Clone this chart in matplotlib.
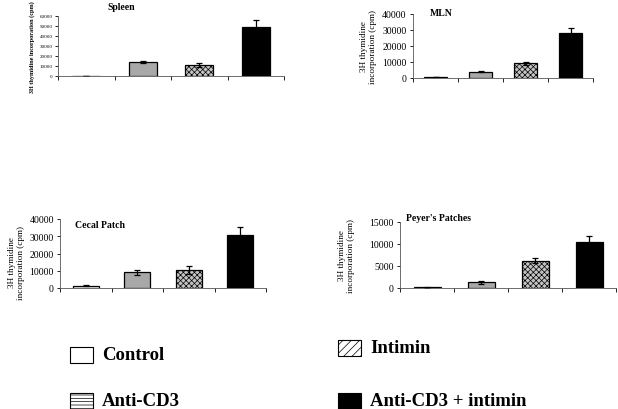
import matplotlib.pyplot as plt
from matplotlib.patches import Rectangle

plt.rcParams['font.family'] = ['Liberation Serif', 'DejaVu Serif']
plt.rcParams['hatch.linewidth'] = 0.5

groups = ['Control', 'Anti-CD3', 'Intimin', 'Anti-CD3 + intimin']
faces = ['white', '#a8a8a8', '#c4c4c4', 'black']
hatches = ['', '', 'xxxxxx', '']

panels = ['Spleen', 'MLN', 'Cecal Patch', "Peyer's Patches"]
spleen_vals = [200, 13800, 11000, 49000]
spleen_err = [100, 800, 2000, 7000]
mln_vals = [600, 4000, 9300, 28000]
mln_err = [100, 500, 1000, 3000]
cecal_vals = [1300, 9200, 10400, 30900]
cecal_err = [300, 1500, 2200, 4200]
peyer_vals = [150, 1300, 6200, 10500]
peyer_err = [50, 300, 600, 1400]

vals = [spleen_vals, mln_vals, cecal_vals, peyer_vals]
errs = [spleen_err, mln_err, cecal_err, peyer_err]
ytops = [60000, 40000, 40000, 15000]
ysteps = [10000, 10000, 10000, 5000]

W, H = 618, 410
fig = plt.figure(figsize=(W / 100, H / 100), dpi=100)


def px_box(l, r, t, b):
    return [l / W, 1 - b / H, (r - l) / W, (b - t) / H]


boxes = [px_box(58, 284, 17, 77), px_box(413, 593, 15, 79),
         px_box(60, 266, 220, 289), px_box(400, 616, 223, 289)]
title_pos = [(121, 8), (441, 13), (100, 226), (438, 219)]
label_pos = [(-0.1, 0.5), (-0.2, 0.5), (-0.17, 0.38), (-0.208, 0.5)]

for i in range(4):
    ax = fig.add_axes(boxes[i])
    small = i == 0
    fs = 3.6 if small else 7
    ax.bar(range(4), vals[i], width=0.5, color=faces, edgecolor='black',
           hatch=hatches, linewidth=0.9, yerr=errs[i], capsize=2.5,
           error_kw=dict(elinewidth=0.9, capthick=0.9), zorder=2)
    ax.set_xlim(-0.5, 3.5)
    ax.set_ylim(0, ytops[i])
    ax.set_yticks(range(0, ytops[i] + 1, ysteps[i]))
    ax.set_xticks([-0.5, 0.5, 1.5, 2.5, 3.5])
    ax.set_xticklabels([])
    ax.tick_params(axis='x', length=3, width=0.6, direction='out')
    ax.tick_params(axis='y', length=2.5, width=0.6, labelsize=fs,
                   pad=1.5 if small else 2)
    for s in ['top', 'right']:
        ax.spines[s].set_visible(False)
    for s in ['left', 'bottom']:
        ax.spines[s].set_linewidth(0.6)
        ax.spines[s].set_color('#555555')
    if small:
        ax.set_ylabel('3H thymidine incorporation (cpm)', fontsize=4.4,
                      fontweight='bold')
    else:
        ax.set_ylabel('3H thymidine\nincorporation (cpm)', fontsize=6.6,
                      linespacing=1.15)
    ax.yaxis.set_label_coords(*label_pos[i])
    tx, ty = title_pos[i]
    fig.text(tx / W, 1 - ty / H, panels[i], fontsize=7, fontweight='bold',
             ha='center', va='center')

# legend
leg_x = [70, 70, 338, 338]
leg_y = [356, 402, 349, 402]
leg_face = ['white', 'white', 'white', 'black']
leg_hatch = ['', '-----', '////', '']
for k in range(4):
    x, y = leg_x[k], leg_y[k]
    rect = Rectangle((x / W, 1 - (y + 8) / H), 23 / W, 16 / H,
                     transform=fig.transFigure, facecolor=leg_face[k],
                     edgecolor='black', hatch=leg_hatch[k], linewidth=0.8)
    fig.add_artist(rect)
    fig.text((x + 32) / W, 1 - y / H, groups[k], fontsize=13.5,
             fontweight='bold', ha='left', va='center')

fig.savefig('out.png', dpi=100)
